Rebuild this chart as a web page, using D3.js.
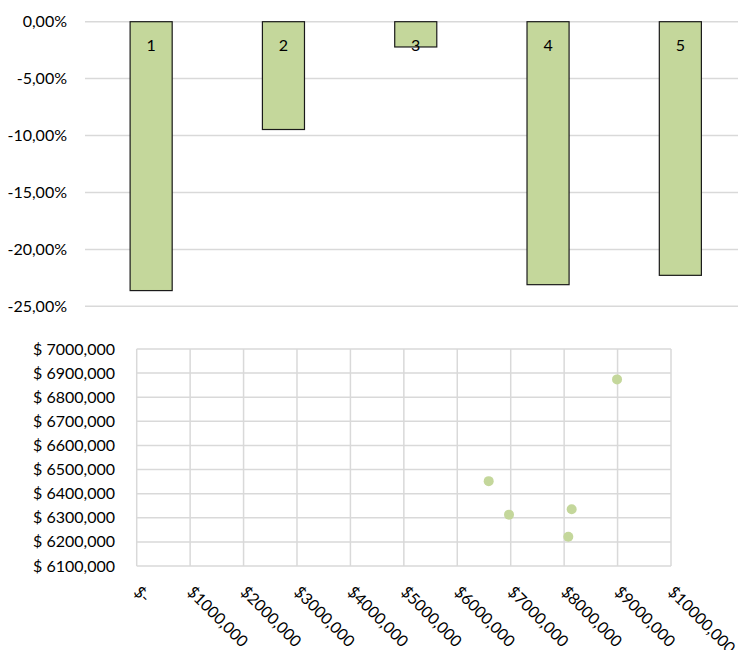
<!DOCTYPE html>
<html>
<head>
<meta charset="utf-8">
<script src="https://cdn.jsdelivr.net/npm/d3@7"></script>
<style>
	body { margin: 0; background: #fff; }
	svg text { font-family: Lato, 'Open Sans', sans-serif; fill: #000; }
</style>
</head>
<body>
<div id="chart"></div>
<script>
// bar chart data
const barLabels = ['1', '2', '3', '4', '5'];
const barValues = [-0.2362, -0.0947, -0.0222, -0.2310, -0.2228];
const barTicks = [0, -0.05, -0.10, -0.15, -0.20, -0.25];

// scatter data
const scatterX = [6588000, 6968000, 8141000, 8078000, 8990000];
const scatterY = [6452000, 6313000, 6335000, 6221000, 6874000];
const scatterXTicks = [0, 1000000, 2000000, 3000000, 4000000, 5000000, 6000000, 7000000, 8000000, 9000000, 10000000];
const scatterYTicks = [6100000, 6200000, 6300000, 6400000, 6500000, 6600000, 6700000, 6800000, 6900000, 7000000];

const W = 738, H = 650;
const green = '#c4d79b', grid = '#d9d9d9';

const svg = d3.select('#chart').append('svg')
	.attr('width', W)
	.attr('height', H);

// ---- top: bar chart ----
const barArea = { left: 85, right: 746.5, y0: 21.7, y1: 306.3 };

const x = d3.scaleBand().domain(barLabels).range([barArea.left, barArea.right]).paddingInner(0.682).paddingOuter(0.341);
const y = d3.scaleLinear().domain([0, -0.25]).range([barArea.y0, barArea.y1]);

const pct = d => (d === 0 ? '0,00' : d3.format('.2f')(d * 100).replace('\u2212', '-').replace('.', ',')) + '%';

svg.append('g')
	.selectAll('line')
	.data(barTicks)
	.enter()
	.append('line')
	.attr('x1', barArea.left)
	.attr('x2', W)
	.attr('y1', d => y(d))
	.attr('y2', d => y(d))
	.attr('stroke', grid)
	.attr('stroke-width', 1.5);

svg.append('g')
	.selectAll('text')
	.data(barTicks)
	.enter()
	.append('text')
	.attr('x', 67)
	.attr('y', d => y(d))
	.attr('dy', '0.35em')
	.attr('text-anchor', 'end')
	.style('font-size', '16px')
	.text(d => pct(d));

svg.append('g')
	.selectAll('rect')
	.data(barValues)
	.enter()
	.append('rect')
	.attr('x', (d, i) => x(barLabels[i]))
	.attr('y', y(0))
	.attr('width', x.bandwidth())
	.attr('height', d => y(d) - y(0))
	.attr('fill', green)
	.attr('stroke', '#1a1a1a')
	.attr('stroke-width', 1.2);

svg.append('g')
	.selectAll('text')
	.data(barLabels)
	.enter()
	.append('text')
	.attr('x', d => x(d) + x.bandwidth() / 2)
	.attr('y', 45)
	.attr('dy', '0.35em')
	.attr('text-anchor', 'middle')
	.style('font-size', '16px')
	.text(d => d);

// ---- bottom: scatter ----
const bot = { left: 136.7, right: 671, top: 349, bottom: 566 };

const sx = d3.scaleLinear().domain([0, 10000000]).range([bot.left, bot.right]);
const sy = d3.scaleLinear().domain([6100000, 7000000]).range([bot.bottom, bot.top]);

const money = d => '$ ' + d3.format('d')(Math.floor(d / 1000)) + ',000';
const moneyX = d => d === 0 ? '$-' : '$' + d3.format('d')(Math.floor(d / 1000)) + ',000';

svg.append('g')
	.selectAll('line')
	.data(scatterYTicks)
	.enter()
	.append('line')
	.attr('x1', bot.left)
	.attr('x2', bot.right)
	.attr('y1', d => sy(d))
	.attr('y2', d => sy(d))
	.attr('stroke', grid)
	.attr('stroke-width', 1.5);

svg.append('g')
	.selectAll('line')
	.data(scatterXTicks)
	.enter()
	.append('line')
	.attr('x1', d => sx(d))
	.attr('x2', d => sx(d))
	.attr('y1', bot.top)
	.attr('y2', bot.bottom)
	.attr('stroke', grid)
	.attr('stroke-width', 1.5);

svg.append('g')
	.selectAll('text')
	.data(scatterYTicks)
	.enter()
	.append('text')
	.attr('x', 115)
	.attr('y', d => sy(d))
	.attr('dy', '0.35em')
	.attr('text-anchor', 'end')
	.style('font-size', '16px')
	.text(d => money(d));

svg.append('g')
	.selectAll('text')
	.data(scatterXTicks)
	.enter()
	.append('text')
	.attr('transform', d => 'translate(' + sx(d) + ',' + 589 + ') rotate(45)')
	.attr('dy', '0.35em')
	.attr('text-anchor', 'start')
	.style('font-size', '16px')
	.text(d => moneyX(d));

svg.append('g')
	.selectAll('circle')
	.data(scatterX)
	.enter()
	.append('circle')
	.attr('cx', d => sx(d))
	.attr('cy', (d, i) => sy(scatterY[i]))
	.attr('r', 5)
	.attr('fill', green);
</script>
</body>
</html>
